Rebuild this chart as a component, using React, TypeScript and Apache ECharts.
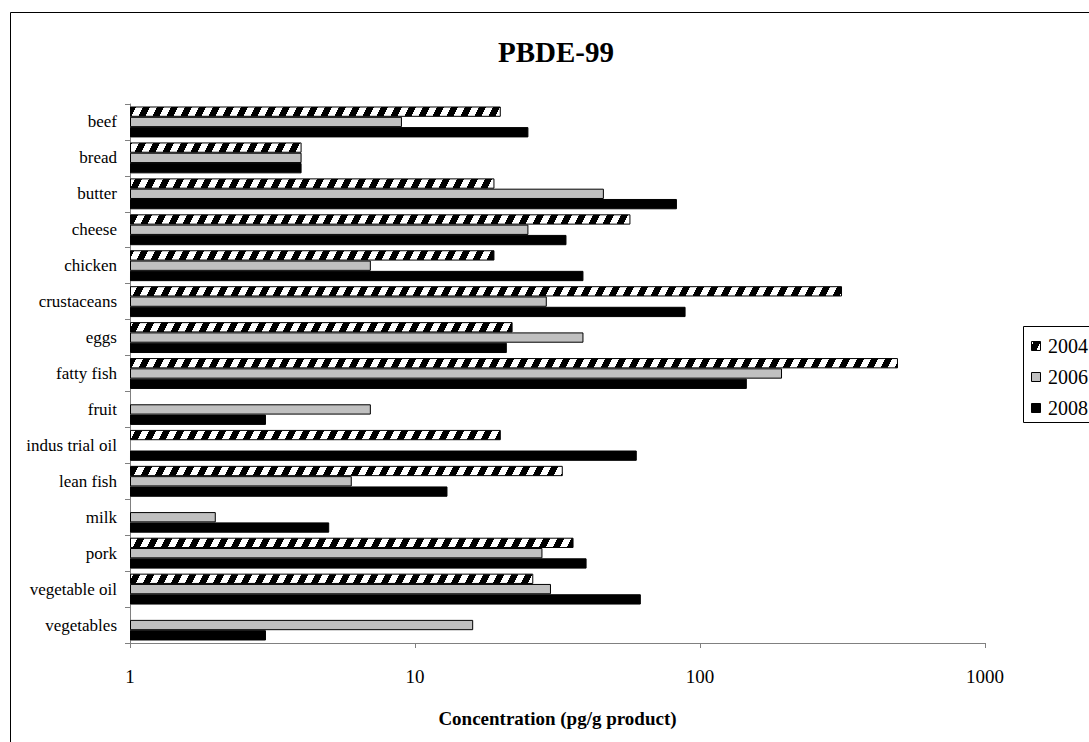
import { useEffect, useRef } from 'react';
import * as echarts from 'echarts';

// Food categories, top to bottom
const categories = [
  'beef', 'bread', 'butter', 'cheese', 'chicken', 'crustaceans', 'eggs',
  'fatty fish', 'fruit', 'indus trial oil', 'lean fish', 'milk', 'pork',
  'vegetable oil', 'vegetables',
];

// PBDE-99 concentration (pg/g product) per survey year; null = not measured
const values2004 = [20, 4, 19, 57, 19, 315, 22, 495, null, 20, 33, null, 36, 26, null];
const values2006 = [9, 4, 46, 25, 7, 29, 39, 194, 7, null, 6, 2, 28, 30, 16];
const values2008 = [25, 4, 83, 34, 39, 89, 21, 146, 3, 60, 13, 5, 40, 62, 3];

const yearNames = ['2004', '2006', '2008'];
const xTicks = [1, 10, 100, 1000];

const FONT = '"Liberation Serif", "Times New Roman", serif';

// Diagonal black/white stripe tile, seamless in both directions
function makeHatch(): HTMLCanvasElement {
  const w = 14;
  const h = 28;
  const c = document.createElement('canvas');
  c.width = w;
  c.height = h;
  const ctx = c.getContext('2d')!;
  ctx.fillStyle = '#ffffff';
  ctx.fillRect(0, 0, w, h);
  ctx.fillStyle = '#000000';
  for (let y = 0; y < h; y++) {
    const start = Math.round(((h - y) / 2) % w);
    for (let k = -1; k <= 1; k++) ctx.fillRect(start + k * w, y, 7, 1);
  }
  return c;
}

export default function App() {
  const ref = useRef<HTMLDivElement>(null);

  useEffect(() => {
    if (!ref.current) return;
    const chart = echarts.init(ref.current, null, { renderer: 'svg' });
    const hatch = { image: makeHatch(), repeat: 'repeat' as const };
    const fills = [hatch, '#c0c0c0', '#000000'];

    const barCommon = {
      type: 'bar' as const,
      barGap: '0%',
      barCategoryGap: '14%',
      silent: true,
    };

    // Legend box drawn as graphics so it can run past the right edge
    const legendX = 1023;
    const legendY = 326;
    const legendRow = 31;
    const legendItems: any[] = [
      {
        type: 'rect',
        silent: true,
        shape: { x: legendX + 0.5, y: legendY + 0.5, width: 120, height: 96 },
        style: { fill: '#ffffff', stroke: '#000', lineWidth: 1 },
      },
    ];
    yearNames.forEach((name, i) => {
      const cy = legendY + 20 + i * legendRow;
      legendItems.push({
        type: 'rect',
        silent: true,
        shape: { x: legendX + 8.5, y: cy - 4.5, width: 9, height: 9 },
        style: { fill: fills[i], stroke: '#000', lineWidth: 1 },
      });
      legendItems.push({
        type: 'text',
        silent: true,
        x: legendX + 25,
        y: cy,
        style: {
          text: name,
          fontFamily: FONT,
          fontSize: 20,
          fill: '#000',
          verticalAlign: 'middle',
          align: 'left',
        },
      });
    });

    chart.setOption({
      animation: false,
      backgroundColor: '#ffffff',
      title: {
        text: 'PBDE-99',
        left: 493,
        top: 32,
        textStyle: { fontFamily: FONT, fontSize: 29, fontWeight: 'bold', color: '#000' },
      },
      grid: { left: 130, right: 104, top: 104, bottom: 99 },
      xAxis: {
        type: 'log',
        logBase: 10,
        min: xTicks[0],
        max: xTicks[xTicks.length - 1],
        name: 'Concentration (pg/g product)',
        nameLocation: 'middle',
        nameGap: 66,
        nameTextStyle: { fontFamily: FONT, fontSize: 19, fontWeight: 'bold', color: '#000' },
        axisLine: { show: true, lineStyle: { color: '#808080', width: 1 } },
        axisTick: { show: true, length: 5, lineStyle: { color: '#808080' } },
        minorTick: { show: false },
        splitLine: { show: false },
        axisLabel: {
          fontFamily: FONT,
          fontSize: 19,
          color: '#000',
          margin: 24,
          formatter: (v: number) => String(Math.round(v)),
        },
      },
      yAxis: {
        type: 'category',
        inverse: true,
        data: categories,
        axisLine: { show: true, lineStyle: { color: '#808080', width: 1 } },
        axisTick: { show: true, length: 5, lineStyle: { color: '#808080' } },
        axisLabel: { fontFamily: FONT, fontSize: 17, color: '#000', margin: 13 },
        splitLine: { show: false },
      },
      series: [
        {
          ...barCommon,
          name: yearNames[0],
          data: values2004,
          itemStyle: { color: fills[0], borderColor: '#000', borderWidth: 1 },
        },
        {
          ...barCommon,
          name: yearNames[1],
          data: values2006,
          itemStyle: { color: fills[1], borderColor: '#000', borderWidth: 1 },
        },
        {
          ...barCommon,
          name: yearNames[2],
          data: values2008,
          itemStyle: { color: fills[2], borderColor: '#000', borderWidth: 1 },
        },
      ],
      graphic: [
        {
          type: 'rect',
          silent: true,
          z: -1,
          shape: { x: 10.5, y: 12.5, width: 1200, height: 900 },
          style: { fill: 'none', stroke: '#000', lineWidth: 1 },
        },
        ...legendItems,
      ],
    });

    return () => chart.dispose();
  }, []);

  return (
    <div
      ref={ref}
      style={{ position: 'fixed', left: 0, top: 0, width: 1089, height: 742 }}
    />
  );
}
